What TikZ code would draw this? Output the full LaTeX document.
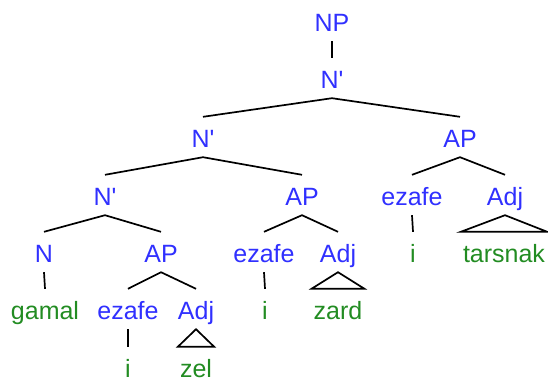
\documentclass[tikz,border=0pt]{standalone}
\usepackage{fontspec}
\newfontfamily\lblfont{Liberation Sans}
\definecolor{catblue}{RGB}{48,48,255}
\definecolor{leafgreen}{RGB}{34,140,34}
\begin{document}
\begin{tikzpicture}[x=1pt,y=-1pt,
  lbl/.style={anchor=base,inner xsep=2pt,inner ysep=10pt,text height=20pt,text depth=0pt,font=\lblfont\fontsize{25}{30}\selectfont},
  cat/.style={lbl,text=catblue},
  leaf/.style={lbl,text=leafgreen},
  edge/.style={draw=black,line width=1.7pt},
  tri/.style={draw=black,line width=1.7pt,line join=miter}]
\useasboundingbox (0,0) rectangle (548,383);
% nodes
\node[cat] (np) at (332,31) {NP};
\node[cat] (nb1) at (332,88) {N'};
\node[cat] (nb2) at (203,147) {N'};
\node[cat] (ap1) at (460,147) {AP};
\node[cat] (nb3) at (105,205) {N'};
\node[cat] (ap2) at (302,205) {AP};
\node[cat] (ez1) at (412,205) {ezafe};
\node[cat] (adj1) at (505,205) {Adj};
\node[cat] (n) at (44,262) {N};
\node[cat] (ap3) at (161,262) {AP};
\node[cat] (ez2) at (264,262) {ezafe};
\node[cat] (adj2) at (338,262) {Adj};
\node[leaf] (i1) at (413,262) {i};
\node[leaf] (tarsnak) at (504,262) {tarsnak};
\node[leaf] (gamal) at (45,319) {gamal};
\node[cat] (ez3) at (128,319) {ezafe};
\node[cat] (adj3) at (196,319) {Adj};
\node[leaf] (i2) at (265,319) {i};
\node[leaf] (zard) at (338,319) {zard};
\node[leaf] (i3) at (128,377) {i};
\node[leaf] (zel) at (196,377) {zel};
% edges
\draw[edge] (np.south) -- (nb1.north);
\draw[edge] (nb2.north) -- (nb1.south) -- (ap1.north);
\draw[edge] (nb3.north) -- (nb2.south) -- (ap2.north);
\draw[edge] (ez1.north) -- (ap1.south) -- (adj1.north);
\draw[edge] (n.north) -- (nb3.south) -- (ap3.north);
\draw[edge] (ez2.north) -- (ap2.south) -- (adj2.north);
\draw[edge] (ez1.south) -- (i1.north);
\draw[edge] (n.south) -- (gamal.north);
\draw[edge] (ez3.north) -- (ap3.south) -- (adj3.north);
\draw[edge] (ez2.south) -- (i2.north);
\draw[edge] (ez3.south) -- (i3.north);
% triangles
\draw[tri] (adj1.south) -- (tarsnak.north west) -- (tarsnak.north east) -- cycle;
\draw[tri] (adj2.south) -- (zard.north west) -- (zard.north east) -- cycle;
\draw[tri] (adj3.south) -- (zel.north west) -- (zel.north east) -- cycle;
\end{tikzpicture}
\end{document}
